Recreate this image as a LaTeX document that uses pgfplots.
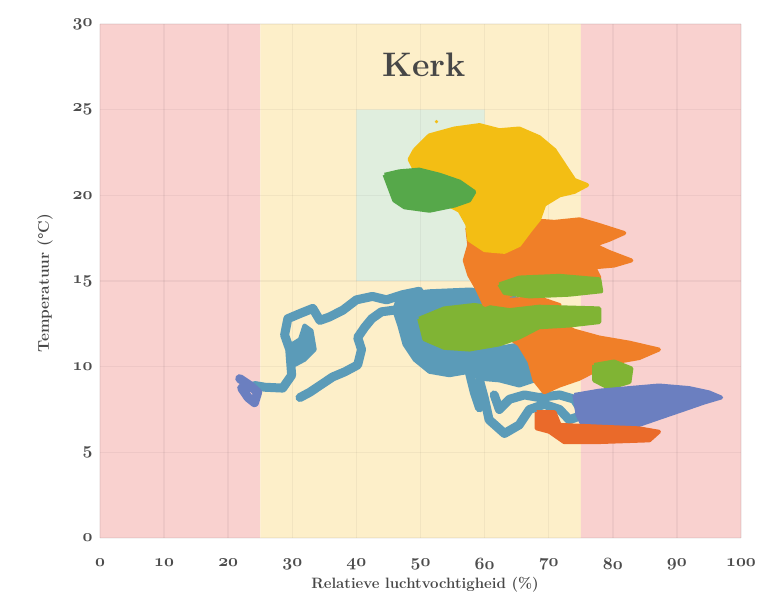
\documentclass[border=0pt]{standalone}
\usepackage{pgfplots}
\pgfplotsset{compat=1.18}
\definecolor{bandpink}{RGB}{249,209,207}
\definecolor{bandyellow}{RGB}{253,239,201}
\definecolor{boxgreen}{RGB}{224,238,222}
\definecolor{cyellow}{RGB}{243,190,20}
\definecolor{cgreen}{RGB}{86,168,74}
\definecolor{colive}{RGB}{128,180,52}
\definecolor{corange}{RGB}{240,127,40}
\definecolor{cred}{RGB}{234,106,42}
\definecolor{cblue}{RGB}{91,155,184}
\definecolor{cpurple}{RGB}{107,127,192}
\newcommand{\osn}[1]{{\usefont{OML}{cmm}{b}{it}#1}}
\begin{document}
\begin{tikzpicture}
\begin{axis}[
  set layers, clip=false,
  scale only axis, width=641pt, height=514pt,
  xmin=0, xmax=100, ymin=0, ymax=30,
  xtick={0,10,...,100}, ytick={0,5,...,30},
  xticklabels={\osn{0},\osn{10},\osn{20},\osn{30},\osn{40},\osn{50},\osn{60},\osn{70},\osn{80},\osn{90},\osn{100}},
  yticklabels={\osn{0},\osn{5},\osn{10},\osn{15},\osn{20},\osn{25},\osn{30}},
  xticklabel style={font=\fontsize{18}{20}\selectfont, text=black!70, yshift=-17pt},
  yticklabel style={font=\fontsize{18}{20}\selectfont, text=black!70, xshift=-4pt},
  grid=major, grid style={draw=black, opacity=0.045, line width=1.5pt},
  axis line style={draw=none}, major tick style={draw=none},
  blob/.style={draw=#1, fill=#1, line width=4pt, line join=round, mark=none},
  trail/.style={draw=#1, line width=9pt, line join=round, line cap=round, mark=none},
]
% background bands
\addplot[on layer=axis background, fill=bandpink, draw=none] coordinates {(0,0) (25,0) (25,30) (0,30) (0,0)};
\addplot[on layer=axis background, fill=bandyellow, draw=none] coordinates {(25,0) (75,0) (75,30) (25,30) (25,0)};
\addplot[on layer=axis background, fill=bandpink, draw=none] coordinates {(75,0) (100,0) (100,30) (75,30) (75,0)};
\addplot[on layer=axis background, fill=boxgreen, draw=none] coordinates {(40,15) (60,15) (60,25) (40,25) (40,15)};

% blue mass
\addplot[blob=cblue] coordinates {(46.7,14.2) (51.4,14.4) (57.6,14.5) (62.3,14.4) (65.4,13.9) (62.3,13.6) (57.6,13.6) (53.0,13.3) (49.8,12.7) (50.6,11.6) (53.7,11.0) (58.4,10.9) (62.3,11.1) (65.4,11.3) (67.0,10.4) (67.8,9.2) (65.4,8.9) (62.3,9.2) (59.2,9.3) (57.6,9.7) (54.5,9.5) (51.4,9.7) (49.1,10.4) (47.5,11.3) (46.7,12.4) (45.9,13.3) (46.7,14.2)};
% blue trails
\addplot[trail=cblue] coordinates {(24.1,8.9) (25.7,8.8) (28.5,8.75) (29.9,9.5) (29.6,11.0) (28.8,11.85) (29.3,12.8) (31.2,13.1) (33.2,13.4) (34.3,12.7) (35.8,12.9) (37.9,13.3) (40.0,13.9) (42.5,14.1) (44.7,13.9) (47.2,14.2) (49.8,14.4)};
\addplot[trail=cblue] coordinates {(31.2,8.2) (32.7,8.5) (34.3,8.9) (36.3,9.4) (38.2,9.7) (40.2,10.1) (40.8,11.0) (40.2,11.7) (41.3,12.3) (42.4,12.8) (43.9,13.2) (45.9,13.3)};
\addplot[blob=cblue] coordinates {(29.9,11.3) (31.2,11.6) (31.9,12.4) (33.0,12.1) (33.5,11.0) (31.9,10.4) (30.4,10.1) (29.9,11.3)};
\addplot[trail=cblue] coordinates {(59.2,9.2) (60.0,8.1) (60.7,6.9) (63.1,6.1) (65.4,6.6) (67.0,7.5) (69.3,7.8) (71.7,7.5) (73.2,6.9) (75.5,7.2) (74.0,8.1) (71.7,8.35) (68.5,8.2) (66.2,8.35) (63.9,8.1) (62.3,7.5) (61.5,8.35)};
\addplot[trail=cblue] coordinates {(57.6,9.7) (58.4,8.5) (59.2,7.6)};

% orange middle
\addplot[blob=corange] coordinates {(60.7,13.6) (63.9,13.9) (68.5,14.0) (71.7,13.6) (70.9,12.7) (74.0,12.1) (77.9,11.7) (82.6,11.4) (87.2,11.0) (84.1,10.5) (81.0,10.3) (77.9,9.9) (74.8,9.3) (71.7,8.9) (69.3,8.5) (67.8,9.2) (67.0,10.3) (65.4,11.3) (63.1,11.85) (61.5,12.7) (60.7,13.6)};
% olive green middle
\addplot[blob=colive] coordinates {(49.8,12.8) (53.7,13.4) (58.4,13.6) (63.9,13.3) (68.5,13.5) (77.9,13.4) (77.9,12.6) (73.2,12.4) (68.5,12.3) (65.4,11.7) (62.3,11.3) (57.6,11.0) (53.7,11.1) (50.6,11.6) (49.8,12.8)};
\addplot[blob=colive] coordinates {(77.1,10.1) (80.2,10.3) (82.9,9.9) (82.6,9.1) (79.4,8.75) (77.1,9.2) (77.1,10.1)};
% orange upper
\addplot[blob=corange] coordinates {(57.3,18.1) (60.7,18.45) (65.4,18.6) (70.9,18.45) (74.8,18.6) (77.6,18.3) (81.8,17.8) (79.4,17.4) (77.1,17.1) (79.4,16.7) (82.9,16.2) (80.2,15.9) (77.1,15.8) (77.9,15.2) (74.8,14.8) (71.7,14.6) (68.5,14.5) (65.4,14.4) (62.3,13.9) (60.0,13.6) (58.9,14.5) (57.6,15.35) (56.9,16.2) (57.6,17.1) (57.3,18.1)};
% green band
\addplot[blob=colive] coordinates {(62.3,14.8) (65.4,15.2) (71.7,15.3) (77.9,15.1) (78.2,14.4) (73.2,14.2) (67.0,14.1) (63.1,14.3) (62.3,14.8)};
% yellow
\addplot[blob=cyellow] coordinates {(49.1,22.65) (51.4,23.5) (55.3,23.9) (59.2,24.1) (62.3,23.8) (65.4,23.9) (68.5,23.4) (70.9,22.65) (72.4,21.8) (74.0,20.9) (76.0,20.6) (74.0,20.2) (71.7,20.0) (69.3,19.45) (68.5,18.6) (67.0,17.9) (65.4,17.1) (63.1,16.7) (60.0,16.8) (57.6,17.4) (57.3,18.3) (56.1,19.1) (53.0,19.7) (50.6,20.3) (49.5,21.2) (48.3,22.1) (49.1,22.65)};
\addplot[only marks, mark=*, mark size=1.5pt, color=cyellow] coordinates {(52.5,24.3)};
% green top
\addplot[blob=cgreen] coordinates {(44.4,21.2) (46.7,21.4) (49.8,21.5) (53.0,21.2) (56.1,20.8) (58.4,20.2) (57.6,19.7) (55.3,19.4) (51.4,19.1) (47.5,19.3) (45.9,19.7) (45.2,20.4) (44.4,21.2)};
% purple
\addplot[blob=cpurple] coordinates {(74.0,8.35) (77.9,8.6) (82.6,8.75) (87.2,8.9) (91.9,8.75) (95.0,8.5) (96.9,8.2) (94.2,7.9) (91.1,7.5) (87.2,7.0) (84.1,6.6) (81.0,6.3) (77.9,6.2) (75.5,6.4) (74.5,7.2) (74.0,8.35)};
\addplot[trail=cpurple] coordinates {(21.8,9.3) (23.4,8.9) (24.6,8.5) (24.1,7.9) (23.1,8.2) (22.1,8.75)};
% red-orange bottom
\addplot[blob=cred] coordinates {(68.1,7.35) (70.9,7.35) (71.7,6.6) (77.9,6.5) (84.1,6.4) (87.2,6.2) (85.7,5.7) (77.9,5.6) (72.4,5.6) (70.1,6.2) (68.1,6.4) (68.1,7.35)};

\node[font=\fontsize{34}{40}\selectfont\bfseries, text=black!72] at (axis cs:50.5,27.6) {Kerk};
\node[font=\fontsize{15}{18}\selectfont\bfseries, text=black!72] at (rel axis cs:0.507,-0.0914) {Relatieve luchtvochtigheid (\%)};
\node[font=\fontsize{15.5}{18}\selectfont\bfseries, text=black!72, rotate=90] at (rel axis cs:-0.0858,0.496) {Temperatuur (\textdegree C)};
\end{axis}
\path (-100pt,-59pt) rectangle (661pt,538pt);
\end{tikzpicture}
\end{document}
